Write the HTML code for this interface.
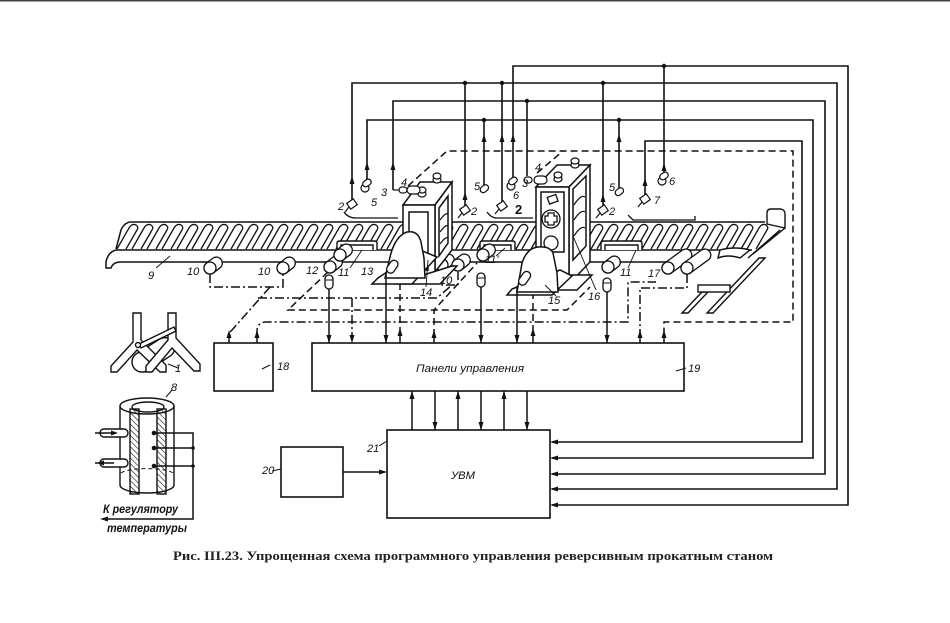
<!DOCTYPE html>
<html>
<head>
<meta charset="utf-8">
<style>
html,body{margin:0;padding:0;background:#fff;}
svg{display:block;}
.t{font-family:"Liberation Sans",sans-serif;font-style:italic;font-size:11px;fill:#111;}
</style>
</head>
<body>
<svg width="950" height="623" viewBox="0 0 950 623" xmlns="http://www.w3.org/2000/svg">
<defs>
  <pattern id="hatch" patternUnits="userSpaceOnUse" width="4" height="4" patternTransform="rotate(-45)">
    <line x1="0" y1="0" x2="0" y2="4" stroke="#111" stroke-width="1.2"/>
  </pattern>
  <g id="r"><path d="M0,0 L12,-21 Q15,-26 19,-24 Q22,-22 20,-19 L9,0" fill="#fff" stroke="#111" stroke-width="1.3"/></g>
  <g id="c"><rect x="-6" y="-6" width="20" height="12" rx="6" transform="rotate(-38)" fill="#fff" stroke="#111" stroke-width="1.3"/><circle r="6" fill="#fff" stroke="#111" stroke-width="1.3"/></g>
  <g id="cl"><rect x="-6" y="-6" width="34" height="12" rx="6" transform="rotate(-36)" fill="#fff" stroke="#111" stroke-width="1.3"/><circle r="6" fill="#fff" stroke="#111" stroke-width="1.3"/></g>
  <g id="pill"><rect x="-4" y="-7" width="8" height="14" rx="4" fill="#fff" stroke="#111" stroke-width="1.3"/><line x1="-4" y1="-2" x2="4" y2="-2" stroke="#111" stroke-width="1"/></g>
  <g id="sb"><rect x="-4" y="-3.5" width="8" height="7" fill="#fff" stroke="#111" stroke-width="1.2" transform="rotate(-35)"/><line x1="-3" y1="3" x2="-7" y2="8" stroke="#111" stroke-width="1.2"/></g>
  <g id="so"><circle r="4" fill="#fff" stroke="#111" stroke-width="1.2"/><rect x="0" y="-6" width="9" height="6" rx="3" transform="rotate(-35)" fill="#fff" stroke="#111" stroke-width="1.2"/></g>
</defs>

<rect x="0" y="0" width="950" height="1.5" fill="#444"/>

<!-- ===== Wires from sensors to UVM ===== -->
<g fill="none" stroke="#111" stroke-width="1.6">
  <path d="M513,180 V66 H848 V505 H552"/>
  <path d="M352,200 V83 H837 V489 H552"/>
  <path d="M393,190 V101 H825 V474 H552"/>
  <path d="M367,182 V120 H813 V458 H552"/>
  <path d="M645,195 V141 H802 V442 H552"/>
  <path d="M465,83 V207"/>
  <path d="M502,83 V202"/>
  <path d="M603,83 V207"/>
  <path d="M527,101 V176"/>
  <path d="M484,120 V186"/>
  <path d="M619,120 V189"/>
  <path d="M664,66 V174"/>
</g>
<g fill="#111">
  <circle cx="465" cy="83" r="2.2"/><circle cx="502" cy="83" r="2.2"/><circle cx="603" cy="83" r="2.2"/>
  <circle cx="527" cy="101" r="2.2"/><circle cx="484" cy="120" r="2.2"/><circle cx="619" cy="120" r="2.2"/>
  <circle cx="664" cy="66" r="2.2"/>
  <!-- up arrowheads on drops -->
  <polygon points="352,176 349.5,184 354.5,184"/>
  <polygon points="367,162 364.5,170 369.5,170"/>
  <polygon points="393,162 390.5,170 395.5,170"/>
  <polygon points="465,192 462.5,200 467.5,200"/>
  <polygon points="484,134 481.5,142 486.5,142"/>
  <polygon points="502,134 499.5,142 504.5,142"/>
  <polygon points="513,134 510.5,142 515.5,142"/>
  <polygon points="603,194 600.5,202 605.5,202"/>
  <polygon points="619,134 616.5,142 621.5,142"/>
  <polygon points="645,178 642.5,186 647.5,186"/>
  <polygon points="664,163 661.5,171 666.5,171"/>
  <!-- left arrowheads into UVM -->
  <polygon points="550,442 558,439.5 558,444.5"/>
  <polygon points="550,458 558,455.5 558,460.5"/>
  <polygon points="550,474 558,471.5 558,476.5"/>
  <polygon points="550,489 558,486.5 558,491.5"/>
  <polygon points="550,505 558,502.5 558,507.5"/>
</g>

<!-- ===== Dashed border lines ===== -->
<g fill="none" stroke="#111" stroke-width="1.5" stroke-dasharray="7,4">
  <path d="M408,186 L447,151 H793 V322 H664 V336"/>
  <path d="M537,173 L563,151"/>
  <path d="M328,272 L288,310 H567 L590,287"/>
  <path d="M434,336 V310 L477,263"/>
  <path d="M400,283 V336"/>
  <path d="M533,292 V336"/>
</g>
<!-- dash-dot lines -->
<g fill="none" stroke="#111" stroke-width="1.5" stroke-dasharray="9,3,2,3">
  <path d="M210,274 V287 H283 V274"/>
  <path d="M270,287 L232,330 L229,333 V337"/>
  <path d="M258,298 H437 L452,285"/>
  <path d="M352,298 V336"/>
  <path d="M257,337 V330 Q258,322 266,322 H628 V282 H656"/>
  <path d="M687,274 V288 H640 V337"/>
  <path d="M442,272 V285 H458 V272"/>
</g>

<!-- ===== Roller table ===== -->
<g fill="none" stroke="#111" stroke-width="1.5">
  <path d="M130,222 H765"/>
  <path d="M130,222 Q124,223 121,230 L116,249"/>
  <path d="M116,250 H752"/>
  <path d="M116,250 Q108,252 106,262 L106,268 L111,268 Q113,262 121,262 H700"/>
</g>
<g>
  <use href="#r" x="117" y="249"/><use href="#r" x="132" y="249"/><use href="#r" x="147" y="249"/><use href="#r" x="162" y="249"/>
  <use href="#r" x="177" y="249"/><use href="#r" x="192" y="249"/><use href="#r" x="207" y="249"/><use href="#r" x="222" y="249"/>
  <use href="#r" x="237" y="249"/><use href="#r" x="252" y="249"/><use href="#r" x="267" y="249"/><use href="#r" x="282" y="249"/>
  <use href="#r" x="297" y="249"/><use href="#r" x="312" y="249"/><use href="#r" x="327" y="249"/><use href="#r" x="342" y="249"/>
  <use href="#r" x="357" y="249"/><use href="#r" x="372" y="249"/><use href="#r" x="387" y="249"/><use href="#r" x="402" y="249"/>
  <use href="#r" x="417" y="249"/><use href="#r" x="432" y="249"/><use href="#r" x="447" y="249"/><use href="#r" x="462" y="249"/>
  <use href="#r" x="477" y="249"/><use href="#r" x="492" y="249"/><use href="#r" x="507" y="249"/><use href="#r" x="522" y="249"/>
  <use href="#r" x="537" y="249"/><use href="#r" x="552" y="249"/><use href="#r" x="567" y="249"/><use href="#r" x="582" y="249"/>
  <use href="#r" x="597" y="249"/><use href="#r" x="612" y="249"/><use href="#r" x="627" y="249"/><use href="#r" x="642" y="249"/>
  <use href="#r" x="657" y="249"/><use href="#r" x="672" y="249"/><use href="#r" x="687" y="249"/><use href="#r" x="702" y="249"/>
  <use href="#r" x="717" y="249"/><use href="#r" x="732" y="249"/><use href="#r" x="747" y="249"/>
</g>
<!-- right end -->
<g fill="#fff" stroke="#111" stroke-width="1.4">
  <path d="M767,224 V213 Q767,209 771,209 H781 Q785,210 785,214 V228 Z"/>
  <path d="M785,228 L753,254 M780,230 L748,258" fill="none"/>
  <path d="M720,250 Q735,246 750,250 L740,258 Q728,254 718,258 Z"/>
  <polygon points="707,313 713,313 765,258 759,258"/>
  <polygon points="682,313 688,313 708,292 702,292"/>
  <rect x="698" y="285" width="32" height="7"/>
</g>

<!-- handles 11 -->
<g fill="#fff" stroke="#111" stroke-width="1.4">
  <path d="M337,250 V243 Q337,241 340,241 H374 Q377,241 377,243 V250"/>
  <path d="M341,250 V245 H373 V250" fill="none"/>
  <path d="M480,250 V243 Q480,241 483,241 H512 Q515,241 515,243 V250"/>
  <path d="M484,250 V245 H511 V250" fill="none"/>
  <path d="M601,250 V243 Q601,241 604,241 H639 Q642,241 642,243 V250"/>
  <path d="M605,250 V245 H638 V250" fill="none"/>
</g>

<!-- lower rollers -->
<use href="#c" x="210" y="268"/>
<use href="#c" x="283" y="268"/>
<use href="#c" x="330" y="267"/>
<use href="#c" x="340" y="255"/>
<use href="#c" x="442" y="265"/>
<use href="#c" x="458" y="265"/>
<use href="#c" x="483" y="255"/>
<use href="#c" x="608" y="267"/>
<use href="#cl" x="668" y="268"/>
<use href="#cl" x="687" y="268"/>

<!-- ===== Stand 1 ===== -->
<g fill="#fff" stroke="#111" stroke-width="1.5">
  <polygon points="403,205 435,205 452,182 420,182"/>
  <polygon points="435,205 452,182 452,250 435,272"/>
  <polygon points="439,208 448,196 448,243 439,256"/>
  <rect x="403" y="205" width="32" height="72"/>
  <rect x="409" y="212" width="19" height="58"/>
  <polygon points="395,284 440,284 457,266 452,266"/>
</g>
<g fill="none" stroke="#111" stroke-width="1.2">
  <path d="M440,220 Q446,212 448,214 M440,232 Q446,224 448,226 M440,244 Q446,236 448,238"/>
</g>
<g fill="#fff" stroke="#111" stroke-width="1.2">
  <ellipse cx="437" cy="180" rx="4" ry="3"/><ellipse cx="437" cy="176" rx="4" ry="3"/>
  <ellipse cx="422" cy="194" rx="4" ry="3"/><ellipse cx="422" cy="190" rx="4" ry="3"/>
</g>
<!-- motor 13 -->
<g fill="#fff" stroke="#111" stroke-width="1.5">
  <polygon points="372,284 412,284 437,257 420,250 378,278"/>
  <path d="M385,278 L390,257 Q395,236 407,232 Q418,230 421,242 L424,258 L425,278 Z"/>
</g>
<g transform="translate(390,270) rotate(-55)"><rect x="-3" y="-4" width="14" height="8" rx="4" fill="#fff" stroke="#111" stroke-width="1.3"/></g>

<!-- ===== Stand 2 ===== -->
<g fill="#fff" stroke="#111" stroke-width="1.5">
  <polygon points="536,187 569,187 590,165 557,165"/>
  <polygon points="569,187 590,165 590,262 569,284"/>
  <polygon points="573,189 586,176 586,246 573,260"/>
  <rect x="536" y="187" width="33" height="97"/>
  <rect x="541" y="192" width="23" height="60"/>
  <polygon points="555,290 577,290 592,275 570,275"/>
</g>
<g fill="none" stroke="#111" stroke-width="1.2">
  <path d="M574,205 Q581,194 585,197 M574,220 Q581,209 585,212 M574,236 Q581,225 585,228"/>
</g>
<g fill="#fff" stroke="#111" stroke-width="1.3">
  <circle cx="551" cy="219" r="9"/>
  <path d="M548,213 H554 V216 H557 V222 H554 V225 H548 V222 H545 V216 H548 Z"/>
  <rect x="548" y="196" width="9" height="7" transform="rotate(-20 552 199)"/>
  <circle cx="551" cy="243" r="7"/>
  <ellipse cx="575" cy="165" rx="4" ry="3"/><ellipse cx="575" cy="161" rx="4" ry="3"/>
  <ellipse cx="558" cy="179" rx="4" ry="3"/><ellipse cx="558" cy="175" rx="4" ry="3"/>
</g>
<!-- motor 15 -->
<g fill="#fff" stroke="#111" stroke-width="1.5">
  <polygon points="507,295 552,295 572,276 560,270 512,289"/>
  <path d="M517,292 L522,263 Q527,248 538,247 Q550,246 553,253 L557,273 L558,292 Z"/>
</g>
<g transform="translate(522,282) rotate(-55)"><rect x="-3" y="-4" width="15" height="8" rx="4" fill="#fff" stroke="#111" stroke-width="1.3"/></g>

<!-- pipes near table -->
<g fill="none" stroke="#111" stroke-width="1.3">
  <path d="M344,212 Q348,218 356,218 H398"/>
  <path d="M487,212 Q491,218 497,218 H533"/>
  <path d="M628,215 L633,220 H695 V216"/>
</g>

<!-- sensors -->
<use href="#sb" x="352" y="204"/>
<use href="#sb" x="465" y="210"/>
<use href="#sb" x="502" y="206"/>
<use href="#sb" x="603" y="210"/>
<use href="#sb" x="645" y="199"/>
<use href="#so" x="365" y="188"/>
<use href="#so" x="511" y="186"/>
<use href="#so" x="662" y="181"/>
<g fill="#fff" stroke="#111" stroke-width="1.2">
  <rect x="480" y="186" width="9" height="6" rx="3" transform="rotate(-40 484 189)"/>
  <rect x="615" y="189" width="9" height="6" rx="3" transform="rotate(-40 619 192)"/>
  <path d="M393,190 H399" fill="none"/>
  <rect x="399" y="187" width="8" height="6" rx="3"/>
  <rect x="407" y="186" width="13" height="8" rx="4"/>
  <rect x="524" y="177" width="8" height="6" rx="3"/>
  <rect x="534" y="176" width="13" height="8" rx="4"/>
</g>

<!-- pills under table -->
<use href="#pill" x="329" y="282"/>
<use href="#pill" x="481" y="280"/>
<use href="#pill" x="607" y="285"/>

<!-- ===== Mill to panel arrows ===== -->
<g fill="none" stroke="#111" stroke-width="1.5">
  <path d="M329,289 V343"/>
  <path d="M386,272 V343"/>
  <path d="M481,287 V343"/>
  <path d="M517,286 V343"/>
  <path d="M607,292 V343"/>
</g>
<g fill="#111">
  <polygon points="329,343 326.5,335 331.5,335"/>
  <polygon points="352,343 349.5,335 354.5,335"/>
  <polygon points="386,343 383.5,335 388.5,335"/>
  <polygon points="481,343 478.5,335 483.5,335"/>
  <polygon points="517,343 514.5,335 519.5,335"/>
  <polygon points="607,343 604.5,335 609.5,335"/>
  <polygon points="400,328 397.5,336 402.5,336"/>
  <polygon points="434,330 431.5,338 436.5,338"/>
  <polygon points="533,328 530.5,336 535.5,336"/>
  <polygon points="640,330 637.5,338 642.5,338"/>
  <polygon points="664,330 661.5,338 666.5,338"/>
  <polygon points="229,330 226.5,338 231.5,338"/>
  <polygon points="257,330 254.5,338 259.5,338"/>
</g>
<g fill="none" stroke="#111" stroke-width="1.5">
  <path d="M400,336 V343 M434,338 V343 M533,336 V343 M640,338 V343 M664,338 V343 M229,338 V343 M257,338 V343"/>
</g>

<!-- ===== Boxes ===== -->
<g fill="#fff" stroke="#111" stroke-width="1.6">
  <rect x="214" y="343" width="59" height="48"/>
  <rect x="312" y="343" width="372" height="48"/>
  <rect x="281" y="447" width="62" height="50"/>
  <rect x="387" y="430" width="163" height="88"/>
</g>
<!-- panel to UVM arrows -->
<g fill="none" stroke="#111" stroke-width="1.5">
  <path d="M412,391 V430 M435,391 V430 M458,391 V430 M481,391 V430 M504,391 V430 M527,391 V430"/>
  <path d="M343,472 H385"/>
</g>
<g fill="#111">
  <polygon points="412,391 409.5,399 414.5,399"/>
  <polygon points="435,430 432.5,422 437.5,422"/>
  <polygon points="458,391 455.5,399 460.5,399"/>
  <polygon points="481,430 478.5,422 483.5,422"/>
  <polygon points="504,391 501.5,399 506.5,399"/>
  <polygon points="527,430 524.5,422 529.5,422"/>
  <polygon points="387,472 379,469.5 379,474.5"/>
</g>
<g fill="none" stroke="#111" stroke-width="1">
  <path d="M262,369 L270,365"/>
  <path d="M676,371 L686,368"/>
  <path d="M379,446 L387,441"/>
  <path d="M272,471 L281,469"/>
</g>

<!-- ===== Inset: fork 1 ===== -->
<g fill="#fff" stroke="#111" stroke-width="1.4">
  <g transform="translate(158,352) rotate(-33)"><rect x="-18" y="-10" width="36" height="20" rx="10"/></g>
  <circle cx="142" cy="362" r="10"/>
  <polygon points="133,313 141,313 141,340 166,365 166,372 160,372 137,350 117,372 111,372 111,366 133,342"/>
  <polygon points="168,313 176,313 176,338 200,364 200,371 194,371 172,348 152,372 146,372 146,366 168,340"/>
  <polygon points="139,344 174,327 176,331 141,348"/>
  <circle cx="138" cy="345" r="2.5"/>
</g>
<path d="M168,364 L178,368" stroke="#111" stroke-width="1" fill="none"/>

<!-- ===== Inset: cylinder 8 ===== -->
<g stroke="#111" stroke-width="1.4">
  <path d="M120,406 V485 A27,8 0 0 0 174,485 V406" fill="#fff"/>
  <ellipse cx="147" cy="406" rx="27" ry="8" fill="#fff"/>
  <ellipse cx="148" cy="407" rx="16" ry="5" fill="#fff"/>
  <rect x="130" y="409" width="9" height="85" fill="url(#hatch)"/>
  <rect x="157" y="409" width="9" height="85" fill="url(#hatch)"/>
  <path d="M121,473 A27,6 0 0 1 173,473" fill="none" stroke-dasharray="4,3" stroke-width="1"/>
  <rect x="100" y="429" width="28" height="8" rx="4" fill="#fff"/>
  <rect x="100" y="459" width="28" height="8" rx="4" fill="#fff"/>
</g>
<g fill="none" stroke="#111" stroke-width="1.5">
  <path d="M154,433 H193 V519 H104"/>
  <path d="M154,448 H193"/>
  <path d="M154,466 H193"/>
  <path d="M95,433 H114 M95,463 H114"/>
  <path d="M166,397 L172,390" stroke-width="1"/>
</g>
<g fill="#111">
  <circle cx="154" cy="433" r="2.3"/><circle cx="154" cy="448" r="2.3"/><circle cx="154" cy="466" r="2.3"/>
  <circle cx="193" cy="448" r="1.8"/><circle cx="193" cy="466" r="1.8"/>
  <polygon points="100,519 108,516.5 108,521.5"/>
  <polygon points="118,433 111,430.5 111,435.5"/>
  <polygon points="97,463 104,460.5 104,465.5"/>
</g>

<!-- ===== Labels ===== -->
<g class="t">
  <text x="148" y="279">9</text>
  <text x="187" y="275">10</text>
  <text x="258" y="275">10</text>
  <text x="306" y="274">12</text>
  <text x="338" y="276">11</text>
  <text x="361" y="275">13</text>
  <text x="420" y="296">14</text>
  <text x="440" y="284">10</text>
  <text x="485" y="263">11'</text>
  <text x="548" y="304">15</text>
  <text x="588" y="300">16</text>
  <text x="620" y="276">11</text>
  <text x="648" y="277">17</text>
  <text x="338" y="210">2</text>
  <text x="371" y="206">5</text>
  <text x="381" y="196">3</text>
  <text x="401" y="186">4</text>
  <text x="471" y="215">2</text>
  <text x="474" y="190">5</text>
  <text x="515" y="214" style="font-size:13px;font-weight:bold;font-style:normal">2</text>
  <text x="513" y="199">6</text>
  <text x="522" y="187">3</text>
  <text x="535" y="171">4</text>
  <text x="609" y="215">2</text>
  <text x="609" y="191">5</text>
  <text x="654" y="204">7</text>
  <text x="669" y="185">6</text>
  <text x="175" y="372">1</text>
  <text x="171" y="391">8</text>
  <text x="277" y="370">18</text>
  <text x="688" y="372">19</text>
  <text x="262" y="474">20</text>
  <text x="367" y="452">21</text>
  <text x="416" y="372" textLength="108" lengthAdjust="spacingAndGlyphs">Панели управления</text>
  <text x="451" y="479" textLength="24" lengthAdjust="spacingAndGlyphs">УВМ</text>
  <text x="103" y="513" style="font-size:12px;font-weight:bold" textLength="75" lengthAdjust="spacingAndGlyphs">К регулятору</text>
  <text x="107" y="532" style="font-size:12px;font-weight:bold" textLength="80" lengthAdjust="spacingAndGlyphs">температуры</text>
</g>
<!-- leaders -->
<g fill="none" stroke="#111" stroke-width="0.9">
  <path d="M156,268 L170,256"/>
  <path d="M350,268 L362,250"/>
  <path d="M426,287 L428,260"/>
  <path d="M496,256 L505,248"/>
  <path d="M556,296 L545,285"/>
  <path d="M596,290 L573,236"/>
  <path d="M628,268 L636,250"/>
</g>

<text x="173" y="560" style="font-family:'Liberation Serif',serif;font-size:12.5px;font-weight:bold;fill:#222" textLength="600" lengthAdjust="spacingAndGlyphs">Рис. III.23. Упрощенная схема программного управления реверсивным прокатным станом</text>
</svg>
</body>
</html>
